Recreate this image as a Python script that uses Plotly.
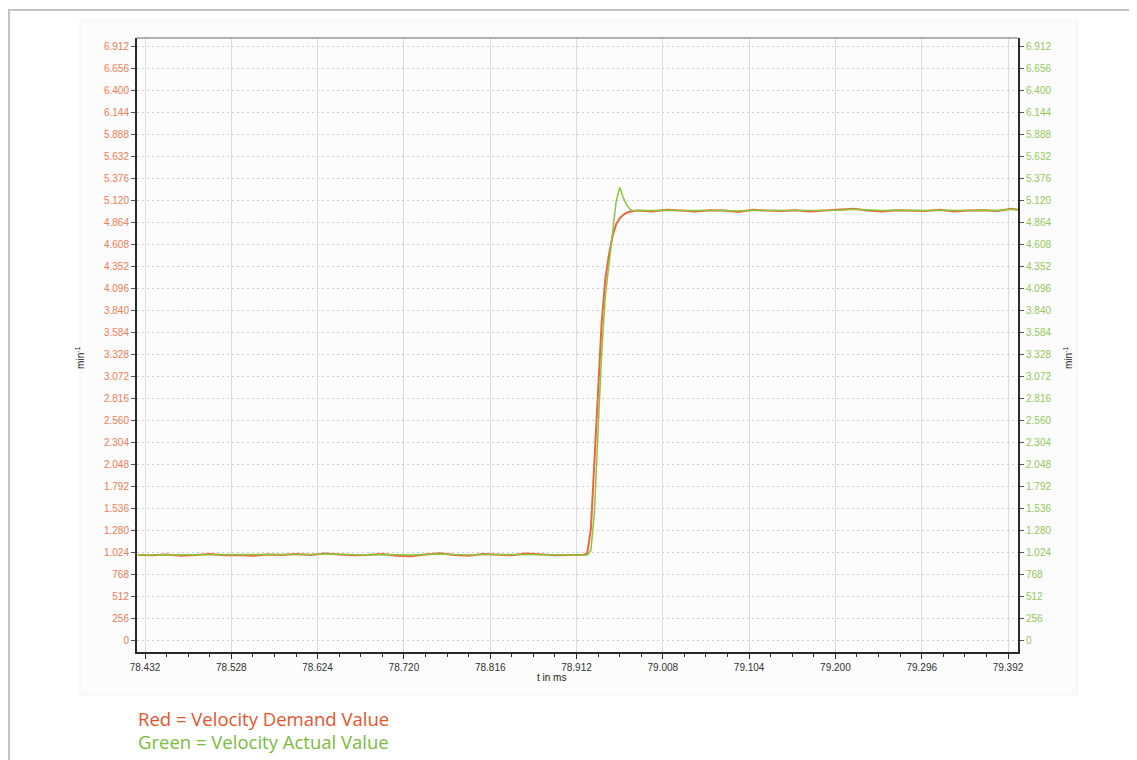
import plotly.graph_objects as go

# ---- data ----
t_before = [78.424, 78.440, 78.456, 78.472, 78.488, 78.504, 78.520, 78.536, 78.552, 78.568,
            78.584, 78.600, 78.616, 78.632, 78.648, 78.664, 78.680, 78.696, 78.712, 78.728,
            78.744, 78.760, 78.776, 78.792, 78.808, 78.824, 78.840, 78.856, 78.872, 78.888,
            78.904]
t_step = [78.920, 78.924, 78.928, 78.932, 78.936, 78.940, 78.944, 78.948, 78.952, 78.956,
          78.960, 78.964, 78.968, 78.972, 78.976, 78.980]
t_after = [78.996, 79.012, 79.028, 79.044, 79.060, 79.076, 79.092, 79.108, 79.124, 79.140,
           79.156, 79.172, 79.188, 79.204, 79.220, 79.236, 79.252, 79.268, 79.284, 79.300,
           79.316, 79.332, 79.348, 79.364, 79.380, 79.396, 79.403]

demand_before = [1000, 995, 1005, 990, 1000, 1010, 995, 1000, 990, 1005,
                 1000, 1010, 1000, 1015, 1005, 995, 1000, 1010, 990, 985,
                 1005, 1020, 1000, 990, 1010, 1000, 995, 1015, 1005, 995,
                 1000]
demand_step = [1000, 1020, 1300, 2100, 2950, 3700, 4200, 4480, 4700, 4840,
               4910, 4950, 4975, 4990, 4995, 5000]
demand_after = [4990, 5010, 5000, 4990, 5005, 5000, 4985, 5010, 5000, 4995,
                5005, 4990, 5000, 5010, 5020, 5000, 4990, 5005, 5000, 4995,
                5010, 4990, 5000, 5005, 4995, 5020, 5010]

actual_before = [1000, 1000, 1005, 1000, 1000, 1005, 1000, 1000, 1000, 1005,
                 1005, 1005, 1005, 1010, 1005, 1000, 1000, 1005, 1000, 1000,
                 1005, 1010, 1005, 1000, 1005, 1005, 1000, 1005, 1005, 1000,
                 1000]
actual_step = [1000, 1000, 1050, 1500, 2450, 3350, 4000, 4380, 4760, 5100,
               5270, 5150, 5060, 5010, 4995, 5000]
actual_after = [5000, 5005, 5000, 5000, 5005, 5000, 4995, 5005, 5000, 5000,
                5005, 5000, 5000, 5005, 5015, 5005, 5000, 5005, 5000, 5000,
                5005, 5000, 5000, 5005, 5000, 5015, 5010]

x_ticks = [78.432, 78.528, 78.624, 78.720, 78.816, 78.912, 79.008, 79.104, 79.200, 79.296, 79.392]
x_labels = ["78.432", "78.528", "78.624", "78.720", "78.816", "78.912", "79.008", "79.104",
            "79.200", "79.296", "79.392"]
y_ticks = [0, 256, 512, 768, 1024, 1280, 1536, 1792, 2048, 2304, 2560, 2816, 3072, 3328,
           3584, 3840, 4096, 4352, 4608, 4864, 5120, 5376, 5632, 5888, 6144, 6400, 6656, 6912]
y_labels = ["0", "256", "512", "768", "1.024", "1.280", "1.536", "1.792", "2.048", "2.304",
            "2.560", "2.816", "3.072", "3.328", "3.584", "3.840", "4.096", "4.352", "4.608",
            "4.864", "5.120", "5.376", "5.632", "5.888", "6.144", "6.400", "6.656", "6.912"]

t = t_before + t_step + t_after
demand = demand_before + demand_step + demand_after
actual = actual_before + actual_step + actual_after

RED = "#f0643a"
GREEN = "#8cc63e"
RED_TXT = "#f27a55"
GREEN_TXT = "#93c75a"
X_RANGE = [78.4231, 79.4031]
Y_RANGE = [-128, 7005]

fig = go.Figure()
fig.add_trace(go.Scatter(x=t, y=demand, mode="lines", line=dict(color=RED, width=2),
                         name="Velocity Demand Value", hoverinfo="x+y"))
fig.add_trace(go.Scatter(x=t, y=actual, mode="lines", line=dict(color=GREEN, width=1.5),
                         name="Velocity Actual Value", hoverinfo="x+y"))
# invisible trace to activate the right axis
fig.add_trace(go.Scatter(x=[t[0]], y=[actual[0]], yaxis="y2", mode="lines",
                         line=dict(width=0), showlegend=False, hoverinfo="skip"))

tickfont = dict(family="Liberation Sans, Arial, sans-serif", size=10)

# page has an 8px body margin: paper starts at (8, 8)
fig.update_layout(
    width=1129, height=752, autosize=False,
    margin=dict(l=129, r=119, t=30, b=108),
    paper_bgcolor="white", plot_bgcolor="white",
    showlegend=False,
    xaxis=dict(range=X_RANGE, tickvals=x_ticks, ticktext=x_labels,
               tickfont=dict(color="#333333", **tickfont),
               showgrid=True, gridcolor="#dcdcdc", gridwidth=1,
               showline=True, linecolor="#2a2a2a", linewidth=2, mirror=False,
               ticks="outside", ticklen=5, tickcolor="#2a2a2a",
               minor=dict(dtick=0.024, tick0=78.432, ticks="outside", ticklen=3,
                          tickcolor="#2a2a2a", showgrid=False),
               zeroline=False),
    yaxis=dict(range=Y_RANGE, tickvals=y_ticks, ticktext=y_labels,
               tickfont=dict(color=RED_TXT, **tickfont),
               showgrid=True, gridcolor="#cfcfcf", griddash="2px,3px", gridwidth=1,
               showline=True, linecolor="#2a2a2a", linewidth=2,
               ticks="outside", ticklen=4, tickcolor="#555555",
               zeroline=False),
    yaxis2=dict(range=Y_RANGE, tickvals=y_ticks, ticktext=y_labels, overlaying="y",
                side="right", tickfont=dict(color=GREEN_TXT, **tickfont),
                showgrid=False, showline=True, linecolor="#2a2a2a", linewidth=2,
                ticks="outside", ticklen=4, tickcolor="#555555", zeroline=False),
    shapes=[
        # outer frame
        dict(type="rect", xref="paper", yref="paper", x0=-0.1453, x1=1.1328, y0=-0.2, y1=1.0456,
             line=dict(color="#c4c4c4", width=2), fillcolor="rgba(0,0,0,0)", layer="below"),
        # faint panel
        dict(type="rect", xref="paper", yref="paper", x0=-0.0647, x1=1.0670, y0=-0.0700, y1=1.0290,
             line=dict(color="#f2f2f2", width=1), fillcolor="rgba(250,250,250,0.6)", layer="below"),
        # top border of plot
        dict(type="line", xref="paper", yref="paper", x0=0, x1=1, y0=1, y1=1,
             line=dict(color="#666666", width=1)),
    ],
    annotations=[
        dict(text="min<sup>-1</sup>", xref="paper", yref="paper", x=-0.0647, y=0.479,
             xanchor="center", yanchor="middle",
             textangle=-90, showarrow=False, font=dict(family="Liberation Sans, Arial", size=10, color="#222222")),
        dict(text="min<sup>-1</sup>", xref="paper", yref="paper", x=1.0568, y=0.479,
             xanchor="center", yanchor="middle",
             textangle=-90, showarrow=False, font=dict(family="Liberation Sans, Arial", size=10, color="#222222")),
        dict(text="t in ms", xref="paper", yref="paper", x=0.470, y=-0.0423,
             xanchor="center", yanchor="middle",
             showarrow=False, font=dict(family="Liberation Sans, Arial", size=10, color="#222222")),
        dict(text="Red = Velocity Demand Value", xref="paper", yref="paper",
             x=-0.001, y=-0.109, xanchor="left", yanchor="middle", showarrow=False,
             font=dict(family="Open Sans, Noto Sans, sans-serif", size=18.5, color="#e8532c")),
        dict(text="Green = Velocity Actual Value", xref="paper", yref="paper",
             x=-0.001, y=-0.1465, xanchor="left", yanchor="middle", showarrow=False,
             font=dict(family="Open Sans, Noto Sans, sans-serif", size=18.5, color="#7cba3c")),
    ],
)

fig.write_html("out.html")
